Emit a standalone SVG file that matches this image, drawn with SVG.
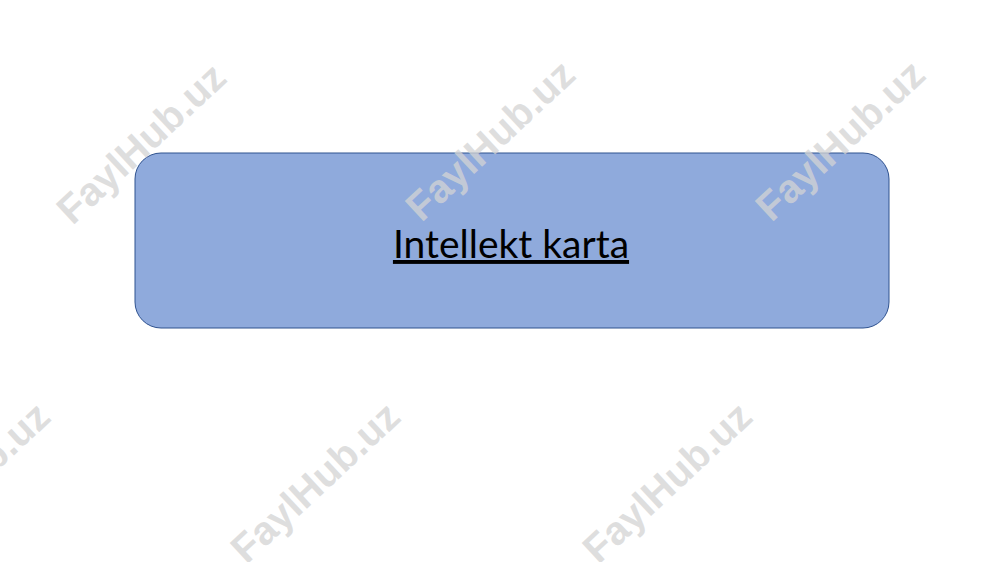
<svg xmlns="http://www.w3.org/2000/svg" width="1000" height="562" viewBox="0 0 1000 562">
<style>
.wm{font-family:"Liberation Sans",Arial,sans-serif;font-weight:bold;font-size:40px;fill:#d4d4d4;fill-opacity:0.75;text-anchor:middle;dominant-baseline:central}
.lbl{font-family:Lato,"Open Sans",sans-serif;font-size:39px;fill:#000;text-anchor:middle;text-decoration:underline}
</style>
<rect width="1000" height="562" fill="#fff"/>
<g id="node-main">
<rect x="135" y="153" width="754" height="175" rx="26" ry="26" fill="#8faadc" stroke="#2f528f" stroke-width="1"/>
<text class="lbl" x="511" y="258">Intellekt karta</text>
</g>
<g id="connectors"></g>
<g id="watermarks">
<text class="wm" transform="translate(141,143) rotate(-43)">FaylHub.uz</text>
<text class="wm" transform="translate(490,140) rotate(-43)">FaylHub.uz</text>
<text class="wm" transform="translate(840,140) rotate(-43)">FaylHub.uz</text>
<text class="wm" transform="translate(-35,482) rotate(-43)">FaylHub.uz</text>
<text class="wm" transform="translate(315,482) rotate(-43)">FaylHub.uz</text>
<text class="wm" transform="translate(667,482) rotate(-43)">FaylHub.uz</text>
</g>
</svg>
